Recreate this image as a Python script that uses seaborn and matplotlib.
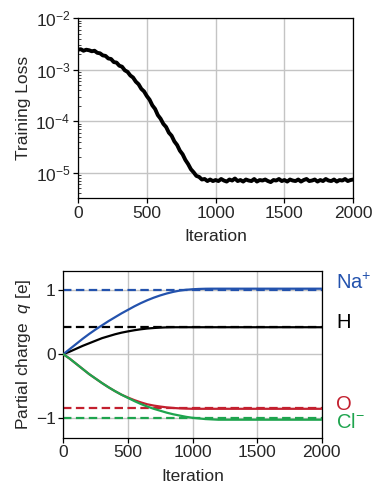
import numpy as np
import pandas as pd
import matplotlib
matplotlib.use("Agg")
import matplotlib.pyplot as plt
import seaborn as sns

# ---------------- data ----------------
loss_iter = list(range(0, 2001, 20))
loss_log10 = [
    -2.61, -2.60, -2.63, -2.61, -2.62, -2.64, -2.63, -2.67, -2.68, -2.72,
    -2.73, -2.78, -2.79, -2.85, -2.86, -2.92, -2.94, -3.01, -3.04, -3.11,
    -3.15, -3.23, -3.28, -3.37, -3.42, -3.51, -3.58, -3.69, -3.76, -3.88,
    -3.95, -4.05, -4.11, -4.22, -4.28, -4.39, -4.46, -4.57, -4.64, -4.75,
    -4.83, -4.93, -4.99, -5.06, -5.08, -5.13, -5.12, -5.16, -5.13, -5.16,
    -5.14,
    -5.16, -5.12, -5.15, -5.17, -5.13, -5.15, -5.11, -5.16, -5.14, -5.17,
    -5.13, -5.15, -5.16, -5.12, -5.17, -5.14, -5.15, -5.13, -5.16, -5.18,
    -5.14, -5.15, -5.12, -5.16, -5.14, -5.17, -5.13, -5.15, -5.16, -5.13,
    -5.17, -5.14, -5.12, -5.16, -5.15, -5.13, -5.17, -5.14, -5.16, -5.12,
    -5.15, -5.16, -5.13, -5.17, -5.14, -5.15, -5.12, -5.16, -5.14, -5.13,
]
training_loss = [10.0 ** v for v in loss_log10]

charge_iter = list(range(0, 2001, 50))
q_na = [0.0, 0.08, 0.16, 0.24, 0.315, 0.385, 0.45, 0.515, 0.575, 0.635,
        0.69, 0.745, 0.795, 0.84, 0.88, 0.915, 0.945, 0.97, 0.99, 1.003,
        1.011, 1.016, 1.019, 1.02] + [1.02] * 17
q_h = [0.0, 0.04, 0.085, 0.13, 0.17, 0.21, 0.25, 0.28, 0.31, 0.335,
       0.355, 0.373, 0.388, 0.40, 0.408, 0.414, 0.418, 0.42] + [0.42] * 23
q_o = [0.0, -0.07, -0.15, -0.23, -0.31, -0.38, -0.45, -0.515, -0.575, -0.63,
       -0.675, -0.715, -0.75, -0.78, -0.80, -0.815, -0.828, -0.837, -0.843,
       -0.847, -0.85] + [-0.85] * 20
q_cl = [0.0, -0.07, -0.15, -0.23, -0.31, -0.38, -0.45, -0.515, -0.575, -0.63,
        -0.68, -0.73, -0.775, -0.815, -0.85, -0.88, -0.91, -0.935, -0.955,
        -0.975, -0.99, -1.0, -1.01, -1.015, -1.02] + [-1.02] * 16

ions = ["Na$^{+}$", "H", "O", "Cl$^{-}$"]
ion_targets = [1.0, 0.417, -0.834, -1.0]
ion_colors = ["#2352ad", "#000000", "#c3202f", "#1ea44e"]
ion_label_y = [1.11, 0.50, -0.79, -1.07]

loss_xticks = [0, 500, 1000, 1500, 2000]
q_yticks = [-1, 0, 1]

# ---------------- style ----------------
sns.set_theme(style="whitegrid")
plt.rcParams["font.family"] = ["Liberation Sans", "DejaVu Sans"]
plt.rcParams["mathtext.fontset"] = "custom"
plt.rcParams["mathtext.rm"] = "Liberation Sans"
plt.rcParams["mathtext.it"] = "Liberation Sans:italic"
plt.rcParams["axes.unicode_minus"] = True

fig = plt.figure(figsize=(3.73, 4.83), dpi=100)
ax1 = fig.add_axes([78 / 373, 1 - 198.3 / 483, 275.3 / 373, 180 / 483])
ax2 = fig.add_axes([63.3 / 373, 1 - 437.7 / 483, 258.4 / 373, 167 / 483])

fs = 12.5
for ax in (ax1, ax2):
    ax.set_facecolor("white")
    ax.grid(True, color="#c4c4c4", linewidth=1.0)
    for s in ax.spines.values():
        s.set_color("black")
        s.set_linewidth(0.9)
    ax.tick_params(axis="both", which="major", direction="out", length=3.5,
                   width=0.9, color="black", labelsize=fs, pad=2,
                   left=True, bottom=True)

# ---- top panel ----
df_loss = pd.DataFrame({"Iteration": loss_iter, "loss": training_loss})
sns.lineplot(data=df_loss, x="Iteration", y="loss", ax=ax1, color="black",
             linewidth=2.8)
ax1.set_yscale("log")
ax1.set_ylim(3.2e-6, 1e-2)
ax1.set_xlim(0, 2000)
ax1.set_xticks(loss_xticks)
ax1.set_yticks([1e-5, 1e-4, 1e-3, 1e-2])
ax1.tick_params(axis="y", which="minor", direction="in", length=2.5,
                width=0.6, left=True)
ax1.yaxis.set_minor_locator(matplotlib.ticker.LogLocator(base=10, subs=np.arange(2, 10)))
ax1.yaxis.set_minor_formatter(matplotlib.ticker.NullFormatter())
ax1.grid(False, which="minor")
ax1.set_xlabel("Iteration", fontsize=fs, labelpad=6)
ax1.set_ylabel("Training Loss", fontsize=fs, labelpad=3)

# ---- bottom panel ----
for tgt, col in zip(ion_targets, ion_colors):
    ax2.axhline(tgt, color=col, linewidth=1.6, dashes=(3.8, 2.0), zorder=2)
for ys, col in zip([q_h, q_na, q_o, q_cl],
                   [ion_colors[1], ion_colors[0], ion_colors[2], ion_colors[3]]):
    df = pd.DataFrame({"Iteration": charge_iter, "q": ys})
    sns.lineplot(data=df, x="Iteration", y="q", ax=ax2, color=col,
                 linewidth=1.6, zorder=3)
for name, yl, col in zip(ions, ion_label_y, ion_colors):
    ax2.text(2110, yl, name, color=col, fontsize=14.5, va="center", ha="left",
             clip_on=False)
ax2.set_xlim(0, 2000)
ax2.set_ylim(-1.3, 1.3)
ax2.set_xticks(loss_xticks)
ax2.set_yticks(q_yticks)
ax2.set_yticklabels(["\u22121", "0", "1"])
ax2.set_xlabel("Iteration", fontsize=fs, labelpad=6)
ax2.set_ylabel("Partial charge  $q$ [e]", fontsize=fs, labelpad=2)

fig.savefig("out.png", dpi=100, facecolor="white")
